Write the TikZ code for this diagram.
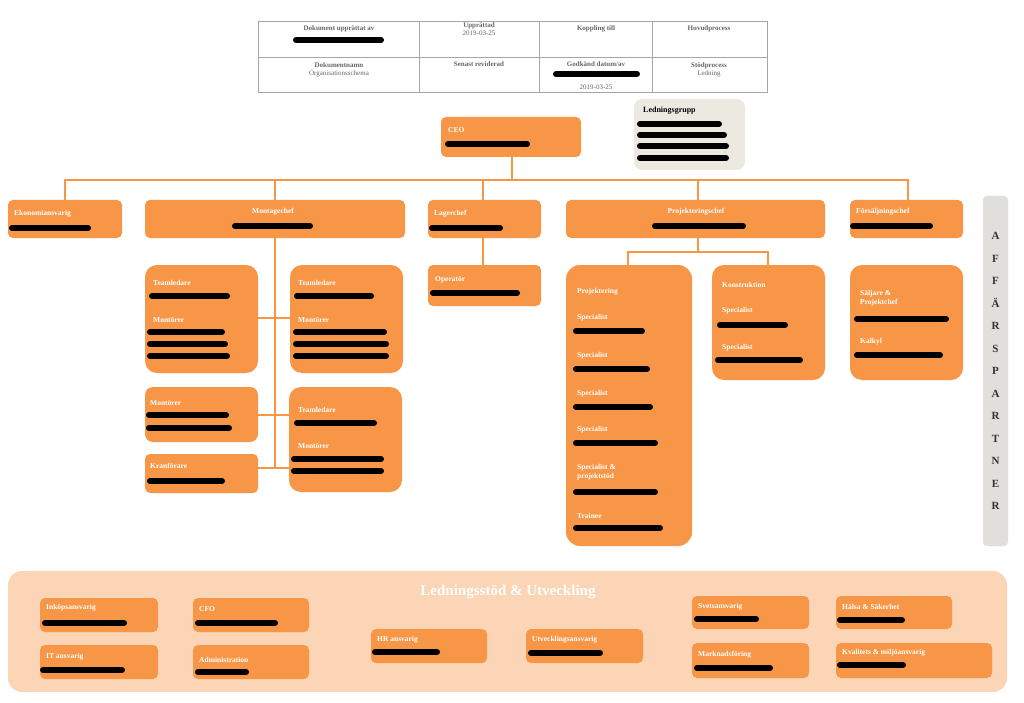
\documentclass[tikz,border=0pt]{standalone}
\usepackage{fontspec}
\setmainfont{Liberation Serif}
\begin{document}
\begin{tikzpicture}[x=1pt,y=-1pt,
  box/.style={draw=none,fill=orgc,rounded corners=5pt,inner sep=0pt},
  lbl/.style={anchor=west,text=white,font=\bfseries\fontsize{7.5}{8.5}\selectfont,inner sep=0pt,align=left},
  tlbl/.style={text=gray!80!black,font=\fontsize{7}{8}\selectfont,inner sep=0pt,align=center},
  bar/.style={line width=6pt,line cap=round,black},
  con/.style={draw=orgc,line width=2.5pt}]
\definecolor{orgc}{HTML}{F79646}
\definecolor{panel}{HTML}{FBD5B5}
\definecolor{beige}{HTML}{ECEAE0}
\useasboundingbox (0,0) rectangle (1024,703);
\fill[white] (0,0) rectangle (1024,703);
\newcommand\obox[6][box]{\node[#1,minimum width={(#5-#3)*1pt},minimum height={(#6-#4)*1pt}] (#2) at ({(#3+#5)/2},{(#4+#6)/2}) {};}
% header table
\draw[gray!70,line width=0.8pt] (258,21) rectangle (767,92) (258,57) -- (767,57) (419,21) -- (419,92) (539,21) -- (539,92) (652,21) -- (652,92);
\node[tlbl,font=\bfseries\fontsize{7}{8}\selectfont] (t1) at (339,29) {Dokument upprättat av};
\draw[bar] (296,40) -- (381,40);
\node[tlbl] (t2) at (479,29) {\textbf{Upprättad}\\2019-03-25};
\node[tlbl,font=\bfseries\fontsize{7}{8}\selectfont] (t3) at (596,29) {Koppling till};
\node[tlbl,font=\bfseries\fontsize{7}{8}\selectfont] (t4) at (709,29) {Huvudprocess};
\node[tlbl] (t5) at (339,70) {\textbf{Dokumentnamn}\\Organisationsschema};
\node[tlbl,font=\bfseries\fontsize{7}{8}\selectfont] (t6) at (479,64) {Senast reviderad};
\node[tlbl,font=\bfseries\fontsize{7}{8}\selectfont] (t7) at (596,64) {Godkänd datum/av};
\draw[bar] (556,74) -- (637,74);
\node[tlbl] (t8) at (596,87) {2019-03-25};
\node[tlbl] (t9) at (709,70) {\textbf{Stödprocess}\\Ledning};
% connectors
\coordinate (hl) at (65,180); \coordinate (hr) at (908,180);
\draw[con] (512,157) -- (512,180);
\draw[con] (65,200) -- (hl) -- (hr) -- (908,200);
\draw[con] (275,180) -- (275,200) (483,180) -- (483,200) (698,180) -- (698,200);
\draw[con] (275,238) -- (275,468);
\draw[con] (258,318) -- (290,318) (258,415) -- (290,415) (258,468) -- (289,468);
\draw[con] (483,238) -- (483,265);
\draw[con] (698,238) -- (698,252) (628,265) -- (628,252) -- (768,252) -- (768,265);
% boxes
\obox{ceo}{441}{117}{581}{157}
\obox[box,fill=beige,rounded corners=8pt]{lg}{634}{99}{745}{170}
\obox{eko}{8}{200}{122}{238}
\obox{mon}{145}{200}{405}{238}
\obox{lag}{428}{200}{541}{238}
\obox{pro}{566}{200}{825}{238}
\obox{fors}{850}{200}{963}{238}
\obox[box,rounded corners=12pt]{tm1}{145}{265}{258}{373}
\obox[box,rounded corners=12pt]{tm2}{290}{265}{403}{373}
\obox[box,rounded corners=8pt]{mo3}{145}{387}{258}{442}
\obox{kran}{145}{454}{258}{493}
\obox[box,rounded corners=12pt]{tm3}{289}{387}{402}{492}
\obox{op}{428}{265}{541}{306}
\obox[box,rounded corners=14pt]{pj}{566}{265}{692}{546}
\obox[box,rounded corners=12pt]{kon}{712}{265}{825}{380}
\obox[box,rounded corners=12pt]{sal}{850}{265}{963}{380}
\obox[box,fill=beige!70!gray!60,rounded corners=4pt]{aff}{983}{196}{1008}{546}
% labels
\node[lbl] at (448,130) {CEO}; \draw[bar] (448,144) -- (527,144);
\node[lbl,text=black,font=\bfseries\fontsize{8}{9}\selectfont] at (643,111) {Ledningsgrupp};
\draw[bar] (640,124) -- (719,124) (640,135) -- (724,135) (640,146) -- (726,146) (640,158) -- (726,158);
\node[lbl] at (14,214) {Ekonomiansvarig}; \draw[bar] (12,228) -- (88,228);
\node[lbl,anchor=center] at (273,212) {Montagechef}; \draw[bar] (235,226) -- (310,226);
\node[lbl] at (434,214) {Lagerchef}; \draw[bar] (432,228) -- (500,228);
\node[lbl,anchor=center] at (696,212) {Projekteringschef}; \draw[bar] (655,226) -- (743,226);
\node[lbl] at (856,212) {Försäljningschef}; \draw[bar] (853,226) -- (930,226);
\node[lbl] at (153,283) {Teamledare}; \draw[bar] (152,296) -- (227,296);
\node[lbl] at (153,320) {Montörer}; \draw[bar] (150,332) -- (222,332) (150,344) -- (225,344) (150,356) -- (227,356);
\node[lbl] at (298,283) {Teamledare}; \draw[bar] (297,296) -- (371,296);
\node[lbl] at (298,320) {Montörer}; \draw[bar] (296,332) -- (384,332) (296,344) -- (386,344) (296,356) -- (386,356);
\node[lbl] at (150,403) {Montörer}; \draw[bar] (149,415) -- (226,415) (149,428) -- (229,428);
\node[lbl] at (150,466) {Kranförare}; \draw[bar] (150,481) -- (222,481);
\node[lbl] at (298,410) {Teamledare}; \draw[bar] (297,423) -- (374,423);
\node[lbl] at (298,446) {Montörer}; \draw[bar] (294,459) -- (381,459) (294,471) -- (381,471);
\node[lbl] at (435,280) {Operatör}; \draw[bar] (433,293) -- (517,293);
\node[lbl] at (577,292) {Projektering};
\node[lbl] at (577,318) {Specialist}; \draw[bar] (576,331) -- (642,331);
\node[lbl] at (577,356) {Specialist}; \draw[bar] (576,369) -- (647,369);
\node[lbl] at (577,394) {Specialist}; \draw[bar] (576,407) -- (650,407);
\node[lbl] at (577,430) {Specialist}; \draw[bar] (576,443) -- (655,443);
\node[lbl] at (577,472) {Specialist \&\\projektstöd}; \draw[bar] (576,492) -- (655,492);
\node[lbl] at (577,516) {Trainee}; \draw[bar] (576,528) -- (660,528);
\node[lbl] at (722,285) {Konstruktion};
\node[lbl] at (722,311) {Specialist}; \draw[bar] (720,325) -- (785,325);
\node[lbl] at (722,348) {Specialist}; \draw[bar] (718,360) -- (800,360);
\node[lbl] at (860,298) {Säljare \&\\Projektchef}; \draw[bar] (857,319) -- (946,319);
\node[lbl] at (860,342) {Kalkyl}; \draw[bar] (857,355) -- (940,355);
\node[inner sep=0pt,align=center,font=\bfseries\fontsize{11}{22.5}\selectfont,text=gray!40!black] at (995.5,371) {A\\F\\F\\Ä\\R\\S\\P\\A\\R\\T\\N\\E\\R};
% bottom panel
\obox[box,fill=panel,rounded corners=14pt]{panel}{8}{571}{1007}{692}
\node[font=\bfseries\fontsize{15}{17}\selectfont,text=white,inner sep=0pt] (pt) at (508,592) {Ledningsstöd \& Utveckling};
\obox{b1}{40}{598}{158}{632} \obox{b2}{40}{645}{158}{679}
\obox{b3}{193}{598}{309}{632} \obox{b4}{193}{645}{309}{679}
\obox{b5}{371}{629}{487}{663} \obox{b6}{526}{629}{643}{663}
\obox{b7}{692}{596}{809}{629} \obox{b8}{692}{643}{809}{678}
\obox{b9}{836}{596}{952}{629} \obox{b10}{836}{643}{992}{678}
\node[lbl] at (46,608) {Inköpsansvarig}; \draw[bar] (45,623) -- (124,623);
\node[lbl] at (46,657) {IT ansvarig}; \draw[bar] (43,670) -- (122,670);
\node[lbl] at (199,609) {CFO}; \draw[bar] (198,623) -- (275,623);
\node[lbl] at (199,660) {Administration}; \draw[bar] (198,672) -- (246,672);
\node[lbl] at (377,640) {HR ansvarig}; \draw[bar] (375,652) -- (437,652);
\node[lbl] at (532,640) {Utvecklingsansvarig}; \draw[bar] (531,653) -- (600,653);
\node[lbl] at (698,607) {Svetsansvarig}; \draw[bar] (697,619) -- (756,619);
\node[lbl] at (698,655) {Marknadsföring}; \draw[bar] (697,668) -- (770,668);
\node[lbl] at (842,607) {Hälsa \& Säkerhet}; \draw[bar] (840,620) -- (902,620);
\node[lbl] at (842,653) {Kvalitets \& miljöansvarig}; \draw[bar] (840,665) -- (903,665);
\end{tikzpicture}
\end{document}
